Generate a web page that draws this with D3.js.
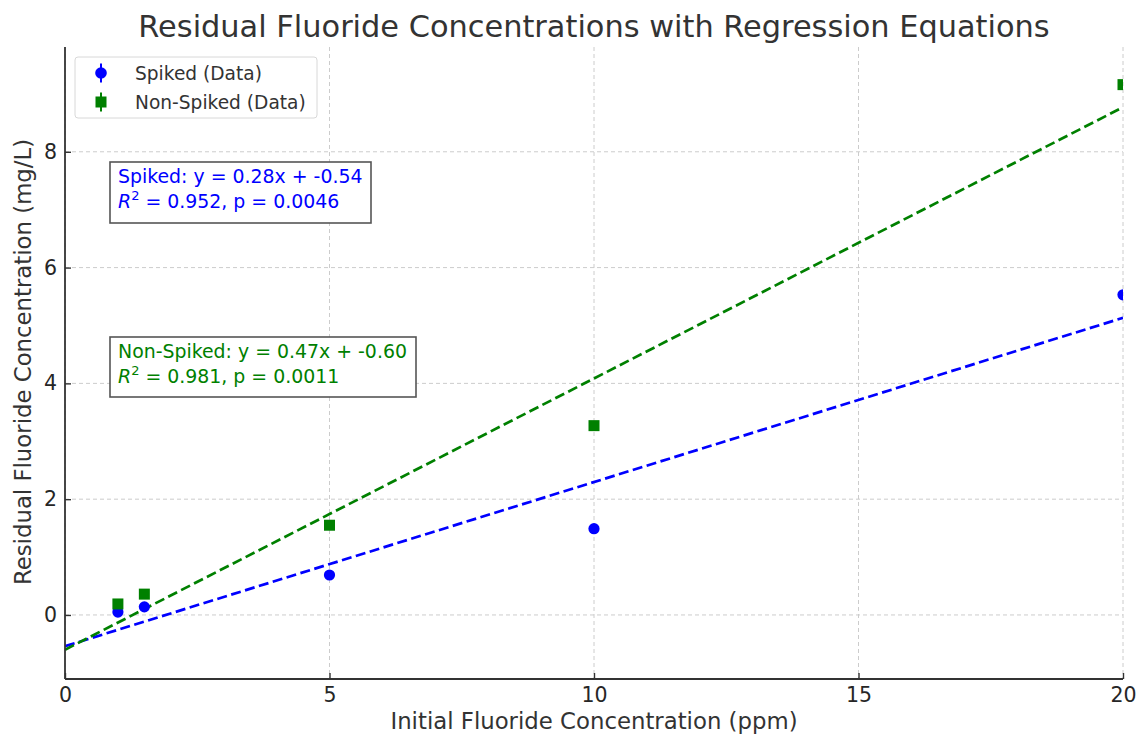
<!DOCTYPE html>
<html><head><meta charset="utf-8">
<script src="https://cdn.jsdelivr.net/npm/d3@7"></script>
<style>body{margin:0;background:#fff;} text{font-family:"DejaVu Sans",sans-serif;}</style>
</head><body>
<svg id="c" width="1141" height="738"></svg>
<script>
const xValues = [1, 1.5, 5, 10, 20];
const spiked = [0.05, 0.14, 0.69, 1.49, 5.53];
const nonSpiked = [0.19, 0.36, 1.55, 3.27, 9.16];
const spikedFit = {slope: 0.2836, intercept: -0.54};
const nonSpikedFit = {slope: 0.4685, intercept: -0.60};
const xTicks = [0, 5, 10, 15, 20];
const yTicks = [0, 2, 4, 6, 8];
const title = "Residual Fluoride Concentrations with Regression Equations";
const xLabel = "Initial Fluoride Concentration (ppm)";
const yLabel = "Residual Fluoride Concentration (mg/L)";

const svg = d3.select("#c");
const m = {l: 65, r: 1123, t: 47, b: 679};
const x = d3.scaleLinear().domain([0, 20]).range([m.l, m.r]);
const y = d3.scaleLinear().domain([-1.106, 9.81]).range([m.b, m.t]);

// grid
const g = svg.append("g");
g.selectAll(".vg").data(xTicks).join("line")
  .attr("x1", d => x(d)).attr("x2", d => x(d)).attr("y1", m.t).attr("y2", m.b)
  .attr("stroke", "#cccccc").attr("stroke-width", 1).attr("stroke-dasharray", "4,3");
g.selectAll(".hg").data(yTicks).join("line")
  .attr("x1", m.l).attr("x2", m.r).attr("y1", d => y(d)).attr("y2", d => y(d))
  .attr("stroke", "#cccccc").attr("stroke-width", 1).attr("stroke-dasharray", "4,3");

svg.append("defs").append("clipPath").attr("id", "clip").append("rect")
  .attr("x", m.l).attr("y", m.t).attr("width", m.r - m.l).attr("height", m.b - m.t);
const plot = svg.append("g").attr("clip-path", "url(#clip)");

// regression lines
const fits = [[spikedFit, "#0000ff"], [nonSpikedFit, "#008000"]];
fits.forEach(([f, col]) => {
  plot.append("line")
    .attr("x1", x(0)).attr("y1", y(f.intercept))
    .attr("x2", x(20)).attr("y2", y(f.slope * 20 + f.intercept))
    .attr("stroke", col).attr("stroke-width", 2.7).attr("stroke-dasharray", "10,4.5");
});

// points
plot.selectAll(".sp").data(xValues).join("circle")
  .attr("cx", d => x(d)).attr("cy", (d, i) => y(spiked[i])).attr("r", 5.6).attr("fill", "#0000ff");
plot.selectAll(".ns").data(xValues).join("rect")
  .attr("x", d => x(d) - 5.5).attr("y", (d, i) => y(nonSpiked[i]) - 5.5)
  .attr("width", 11).attr("height", 11).attr("fill", "#008000");

// axes
const xAxis = d3.axisBottom(x).tickValues(xTicks).tickSize(-6).tickPadding(8).tickFormat(d3.format("d"));
const yAxis = d3.axisLeft(y).tickValues(yTicks).tickSize(-6).tickPadding(8).tickFormat(d3.format("d"));
const gx = svg.append("g").attr("transform", `translate(0,${m.b})`).call(xAxis);
const gy = svg.append("g").attr("transform", `translate(${m.l},0)`).call(yAxis);
[gx, gy].forEach(a => {
  a.select(".domain").attr("stroke", "#333").attr("stroke-width", 1.8);
  a.selectAll(".tick line").attr("stroke", "#333").attr("stroke-width", 1.4);
  a.selectAll(".tick text").attr("fill", "#262626").style("font-size", "20.5px").style("font-family", "DejaVu Sans");
});
gx.select(".domain").attr("d", `M${m.l},0H${m.r}`);
gy.select(".domain").attr("d", `M0,${m.b}V${m.t}`);

// title & labels
svg.append("text").attr("x", 594).attr("y", 37).attr("text-anchor", "middle")
  .attr("fill", "#333").style("font-size", "30.4px").text(title);
svg.append("text").attr("x", 594).attr("y", 729).attr("text-anchor", "middle")
  .attr("fill", "#333").style("font-size", "22.8px").text(xLabel);
svg.append("text").attr("transform", "translate(31,362) rotate(-90)").attr("text-anchor", "middle")
  .attr("fill", "#333").style("font-size", "22.8px").text(yLabel);

// legend
const lg = svg.append("g");
lg.append("rect").attr("x", 75).attr("y", 57).attr("width", 242).attr("height", 61).attr("rx", 3)
  .attr("fill", "#fff").attr("fill-opacity", 0.8).attr("stroke", "#d8d8d8").attr("stroke-width", 1);
const legendItems = [{label: "Spiked (Data)", col: "#0000ff", shape: "circle"}, {label: "Non-Spiked (Data)", col: "#008000", shape: "square"}];
legendItems.forEach((it, i) => {
  const cy = 73 + i * 29;
  lg.append("line").attr("x1", 101).attr("x2", 101).attr("y1", cy - 9.5).attr("y2", cy + 9.5)
    .attr("stroke", it.col).attr("stroke-width", 2);
  if (it.shape === "circle") lg.append("circle").attr("cx", 101).attr("cy", cy).attr("r", 5.8).attr("fill", it.col);
  else lg.append("rect").attr("x", 95.5).attr("y", cy - 5.5).attr("width", 11).attr("height", 11).attr("fill", it.col);
  lg.append("text").attr("x", 135).attr("y", cy + 7).attr("fill", "#333").style("font-size", "18.6px").text(it.label);
});

// annotation boxes
function box(bx, by, w, h, col, line1, r2, p) {
  const a = svg.append("g");
  a.append("rect").attr("x", bx).attr("y", by).attr("width", w).attr("height", h)
    .attr("fill", "#fff").attr("stroke", "#555").attr("stroke-width", 1.6);
  a.append("text").attr("x", bx + 8).attr("y", by + 21).attr("fill", col).style("font-size", "18.9px").text(line1);
  const t = a.append("text").attr("x", bx + 8).attr("y", by + 46).attr("fill", col).style("font-size", "18.9px");
  t.append("tspan").style("font-style", "italic").text("R");
  t.append("tspan").attr("dy", -8).style("font-size", "13px").text("2");
  t.append("tspan").attr("dy", 8).text(` = ${r2}, p = ${p}`);
}
box(110, 162, 261, 61, "#0000ff", "Spiked: y = 0.28x + -0.54", "0.952", "0.0046");
box(110, 337, 306, 60, "#008000", "Non-Spiked: y = 0.47x + -0.60", "0.981", "0.0011");
</script>
</body></html>
